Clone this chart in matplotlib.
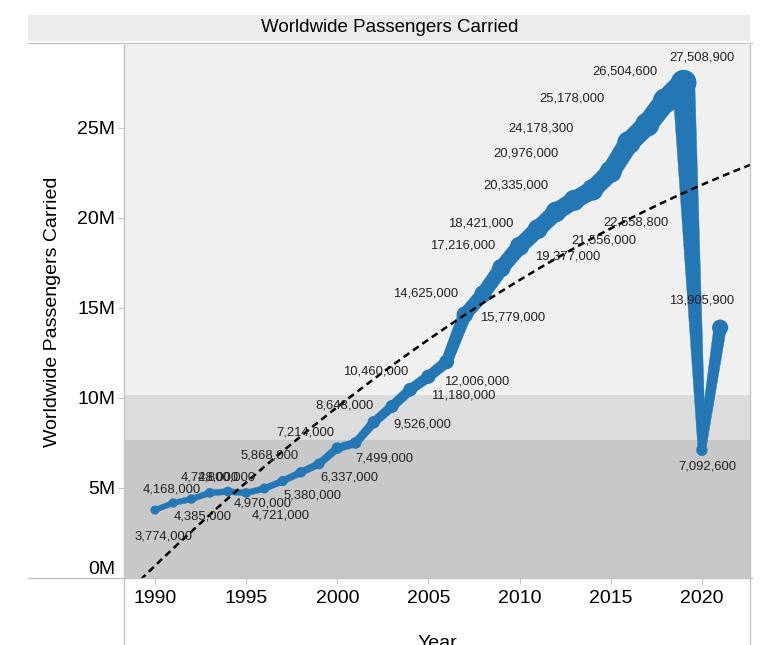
import numpy as np
import matplotlib
matplotlib.use("Agg")
import matplotlib.pyplot as plt
from matplotlib.lines import Line2D
from matplotlib.patches import Polygon, Rectangle
from matplotlib.transforms import ScaledTranslation

plt.rcParams['font.family'] = ['Liberation Sans', 'DejaVu Sans']

years = list(range(1990, 2022))
passengers = [3774000, 4168000, 4385000, 4728000, 4800000, 4721000, 4970000,
              5380000, 5868000, 6337000, 7214000, 7499000, 8648000, 9526000,
              10460000, 11180000, 12006000, 14625000, 15779000, 17216000,
              18421000, 19377000, 20335000, 20976000, 21556000, 22558800,
              24178300, 25178000, 26504600, 27508900, 7092600, 13905900]
band_edges = [7650000, 10150000]
y_ticks = [0, 5000000, 10000000, 15000000, 20000000, 25000000]
y_tick_labels = ["0M", "5M", "10M", "15M", "20M", "25M"]
x_ticks = [1990, 1995, 2000, 2005, 2010, 2015, 2020]

# label offsets in pixels (dx right, dy down), hand placed like the original
label_off = [(8, 26), (-1, -13), (11, 17), (0, -15), (-1, -14), (35, 23),
             (-2, 15), (30, 14), (-31, -17), (30, 14), (-32, -16), (29, 16),
             (-29, -17), (30, 18), (-35, -18), (35, 19), (30, 20), (-39, -21),
             (29, 24), (-39, -22), (-39, -23), (30, 27), (-40, -26), (-48, -47),
             (11, 51), (25, 51), (-88, -14), (-75, -26), (-40, -29), (18, -25),
             (5, 16), (-19, -27)]

W, H = 765, 645
fig = plt.figure(figsize=(W / 100, H / 100), dpi=100)
fig.patch.set_facecolor("white")

L, R, T, B = 124, 750, 45, 578
ax = fig.add_axes([L / W, (H - B) / H, (R - L) / W, (B - T) / H])
ax.set_xlim(1988.3, 2022.64)
ax.set_ylim(0, 29.6e6)
for s in ax.spines.values():
    s.set_visible(False)

blue = "#2377b4"
c_line = "#c4c4c4"

# background bands
ax.axhspan(0, band_edges[0], color="#c8c8c8", lw=0, zorder=0)
ax.axhspan(band_edges[0], band_edges[1], color="#dcdcdc", lw=0, zorder=0)
ax.axhspan(band_edges[1], 29.6e6, color="#f0f0f0", lw=0, zorder=0)

x = np.array(years, dtype=float)
v = np.array(passengers, dtype=float)
m = v / 1e6
line_w = 2.5 + 0.72 * m
dot_d = 6.4 + 0.7 * m

# tapered line in pixel space
pts = ax.transData.transform(np.column_stack([x, v]))
inv = ax.transData.inverted()
for i in range(len(pts) - 1):
    p0, p1 = pts[i], pts[i + 1]
    u = (p1 - p0) / np.hypot(*(p1 - p0))
    n = np.array([-u[1], u[0]])
    quad = np.array([p0 + n * line_w[i] / 2, p1 + n * line_w[i + 1] / 2,
                     p1 - n * line_w[i + 1] / 2, p0 - n * line_w[i] / 2])
    ax.add_patch(Polygon(inv.transform(quad), closed=True, fc=blue, ec=blue,
                         lw=0.3, zorder=2))
ax.scatter(x, v, s=(dot_d * 0.72) ** 2, color=blue, linewidths=0, zorder=3)

# quadratic trend
coef = np.polyfit(x - 1990, v, 2)
tx = np.linspace(1988.3, 2022.64, 200)
ty = np.polyval(coef, tx - 1990)
ax.plot(tx, ty, color="black", lw=1.8, ls=(0, (2.8, 1.8)), zorder=4)

for xi, vi, (dx, dy) in zip(years, passengers, label_off):
    ax.annotate(f"{vi:,}", (xi, vi), xytext=(dx, -dy), textcoords="offset pixels",
                ha="center", va="center", fontsize=9.4, color="#222222", zorder=5)

ax.set_yticks(y_ticks)
ax.set_yticklabels(y_tick_labels)
ax.set_xticks(x_ticks)
ax.set_xticklabels([str(t) for t in x_ticks])
ax.tick_params(axis="y", length=4.3, width=0.8, color=c_line, pad=2,
               labelsize=14, labelcolor="black")
ax.tick_params(axis="x", length=4.3, width=0.8, color=c_line, pad=4,
               labelsize=14, labelcolor="black")
lab0 = ax.get_yticklabels()[0]
lab0.set_transform(lab0.get_transform() + ScaledTranslation(0, 11 / 100, fig.dpi_scale_trans))

ax.set_ylabel("Worldwide Passengers Carried", fontsize=14, labelpad=12)
fig.text((L + R) / 2 / W, (H - 643) / H, "Year", ha="center", va="center", fontsize=14)

# title band and frame lines
fig.add_artist(Rectangle((28 / W, (H - 41) / H), (750 - 28) / W, 26 / H,
                         transform=fig.transFigure, fc="#ececec", ec="none"))
fig.text(390 / W, (H - 28) / H, "Worldwide Passengers Carried", ha="center",
         va="center", fontsize=13.5)
fig.add_artist(Line2D([28 / W, 752 / W], [(H - 43) / H] * 2, transform=fig.transFigure,
                      color=c_line, lw=1))
fig.add_artist(Line2D([28 / W, 752 / W], [(H - B) / H] * 2, transform=fig.transFigure,
                      color=c_line, lw=1))
fig.add_artist(Line2D([L / W] * 2, [0, (H - T) / H], transform=fig.transFigure,
                      color=c_line, lw=1))
fig.add_artist(Line2D([R / W] * 2, [0, (H - T) / H], transform=fig.transFigure,
                      color=c_line, lw=1))

fig.savefig("out.png", dpi=100)
